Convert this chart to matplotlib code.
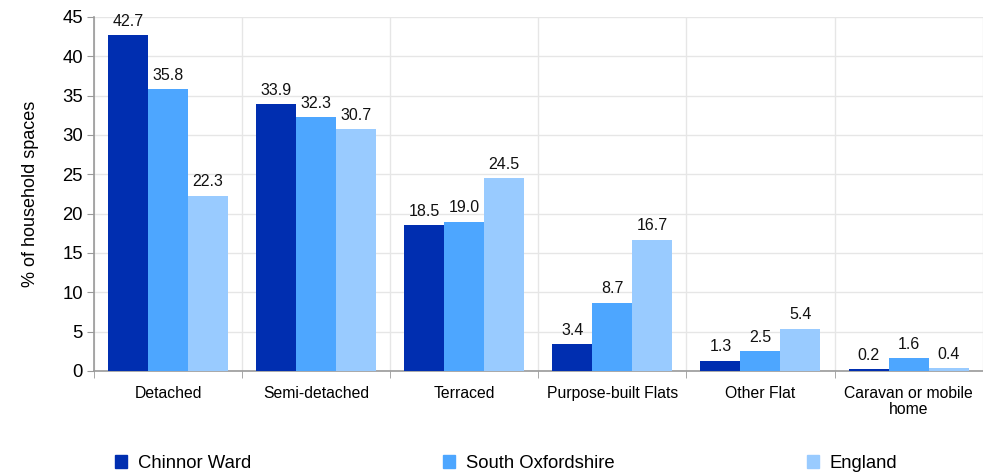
import numpy as np
import matplotlib.pyplot as plt
from matplotlib.patches import Patch

plt.rcParams['font.family'] = ['Liberation Sans', 'DejaVu Sans']

# ── Data ────────────────────────────────────────────────────────────────
categories = ['Detached', 'Semi-detached', 'Terraced', 'Purpose-built Flats',
              'Other Flat', 'Caravan or mobile\nhome']
series_names = ['Chinnor Ward', 'South Oxfordshire', 'England']
chinnor = [42.7, 33.9, 18.5, 3.4, 1.3, 0.2]
south_oxon = [35.8, 32.3, 19.0, 8.7, 2.5, 1.6]
england = [22.3, 30.7, 24.5, 16.7, 5.4, 0.4]
colors = ['#002eb0', '#4da6ff', '#99cbff']

fig = plt.figure(figsize=(9.83, 4.72), dpi=100)
ax = fig.add_axes([0.0956, 0.214, 0.904, 0.75])

x = np.arange(len(categories))
width = 0.27
for i, (vals, name, col) in enumerate(zip([chinnor, south_oxon, england], series_names, colors)):
    pos = x + (i - 1) * width
    ax.bar(pos, vals, width=width, color=col, label=name, zorder=3)
    for px, v in zip(pos, vals):
        ax.text(px, v + 0.8, f'{v:.1f}', ha='center', va='bottom', fontsize=11.5, color='#111111')

ax.set_xlim(-0.5, len(categories) - 0.5)
ax.set_ylim(0, 45)
ax.set_yticks(np.arange(0, 46, 5))
ax.set_xticks(x)
ax.set_xticklabels(categories, fontsize=11.3, linespacing=1.05)
ax.set_xticks(np.arange(-0.5, len(categories), 1), minor=True)
ax.tick_params(axis='x', which='major', length=0, pad=11)
ax.tick_params(axis='x', which='minor', length=5, color='#999999')
ax.tick_params(axis='y', labelsize=13.3, length=5, color='#999999', pad=3)
ax.set_ylabel('% of household spaces', fontsize=13)
ax.yaxis.set_label_coords(-0.062, 0.5)

ax.grid(axis='y', color='#e6e6e6', linewidth=1, zorder=0)
ax.grid(axis='x', which='minor', color='#e6e6e6', linewidth=1, zorder=0)
for s in ['top', 'right']:
    ax.spines[s].set_visible(False)
for s in ['left', 'bottom']:
    ax.spines[s].set_color('#999999')
    ax.spines[s].set_linewidth(1.2)

handles = [Patch(color=c) for c in colors]
fig.legend(handles, series_names, loc='lower left', ncol=3,
           bbox_to_anchor=(0.1, -0.035, 0.83, 0.06), mode='expand',
           frameon=False, fontsize=13.3, handlelength=0.65, handleheight=0.65,
           handletextpad=0.6)

fig.savefig('out.png', dpi=100)
